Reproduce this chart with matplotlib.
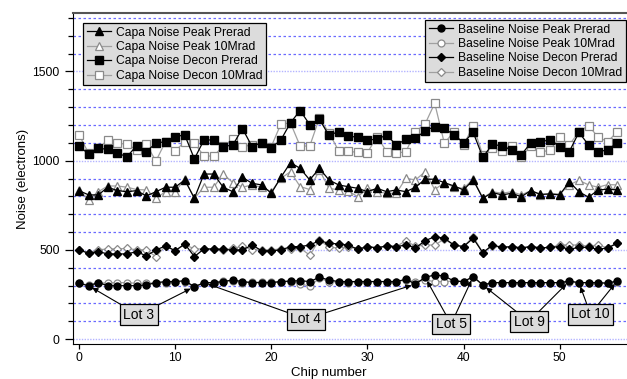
import matplotlib
matplotlib.use("Agg")
import matplotlib.pyplot as plt
import numpy as np

plt.rcParams['font.family'] = ['Liberation Sans', 'DejaVu Sans']

# chip numbers 0..56
chips = list(range(57))

# capacitive noise (electrons)
capa_peak_pre = [832, 808, 808, 851, 832, 826, 832, 802, 826, 851, 851, 892, 789, 925, 925, 851, 826, 907, 873, 864,
                 817, 907, 989, 957, 892, 957, 892, 864, 854, 845, 826, 845, 826, 836, 826, 851, 896, 896, 877, 858,
                 836, 892, 789, 821, 808, 817, 798, 832, 811, 813, 808, 882, 826, 795, 836, 840, 836]
capa_peak_10 = [838, 780, 826, 858, 858, 851, 838, 836, 789, 826, 826, 896, 789, 851, 851, 925, 877, 851, 864, 851,
                826, 901, 938, 855, 838, 948, 845, 836, 830, 798, 845, 826, 817, 817, 901, 892, 938, 838, 877, 851,
                845, 896, 792, 826, 817, 826, 808, 832, 808, 817, 813, 864, 890, 864, 851, 866, 864]
capa_decon_pre = [1082, 1037, 1069, 1064, 1041, 1023, 1084, 1051, 1098, 1107, 1135, 1144, 1010, 1116, 1116, 1079,
                  1088, 1180, 1079, 1101, 1073, 1116, 1213, 1281, 1202, 1232, 1142, 1163, 1138, 1131, 1116, 1120,
                  1144, 1088, 1120, 1125, 1168, 1191, 1182, 1144, 1101, 1159, 1019, 1092, 1082, 1060, 1032, 1101,
                  1107, 1116, 1079, 1051, 1159, 1088, 1051, 1060, 1101]
capa_decon_10 = [1146, 1041, 1069, 1116, 1098, 1092, 1060, 1092, 998, 1107, 1054, 1107, 1098, 1026, 1026, 1082,
                 1120, 1079, 1088, 1101, 1079, 1206, 1211, 1082, 1082, 1238, 1157, 1056, 1052, 1047, 1045, 1135,
                 1051, 1041, 1051, 1163, 1206, 1322, 1098, 1163, 1088, 1195, 1032, 1073, 1056, 1082, 1022, 1082,
                 1047, 1060, 1131, 1088, 1163, 1197, 1131, 1107, 1163]

# baseline noise (electrons)
base_peak_pre = [312, 299, 316, 299, 299, 299, 299, 303, 316, 322, 322, 327, 293, 316, 316, 322, 331, 322, 316, 316,
                 316, 322, 325, 327, 322, 346, 331, 322, 322, 322, 322, 322, 322, 322, 335, 308, 346, 359, 353, 325,
                 322, 350, 303, 316, 316, 316, 316, 316, 316, 316, 316, 325, 316, 316, 316, 312, 327]
base_peak_10 = [312, 303, 312, 316, 316, 316, 312, 312, 316, 316, 322, 322, 290, 316, 316, 327, 325, 316, 318, 320,
                320, 322, 322, 310, 296, 340, 322, 318, 316, 322, 322, 322, 322, 322, 331, 322, 331, 322, 322, 325,
                322, 346, 303, 316, 316, 316, 316, 316, 316, 316, 316, 318, 316, 316, 316, 316, 320]
base_decon_pre = [499, 481, 490, 477, 477, 477, 490, 466, 499, 522, 495, 533, 462, 505, 505, 502, 499, 499, 527, 495,
                  495, 499, 518, 518, 527, 551, 537, 533, 527, 503, 518, 511, 522, 518, 527, 511, 551, 574, 565, 527,
                  518, 565, 484, 527, 514, 518, 511, 518, 511, 514, 518, 503, 514, 514, 503, 511, 537]
base_decon_10 = [500, 485, 500, 505, 505, 508, 500, 500, 462, 522, 495, 530, 505, 505, 502, 500, 508, 520, 500, 500,
                 500, 505, 505, 510, 470, 555, 515, 510, 518, 505, 518, 511, 522, 518, 551, 520, 527, 527, 560, 527,
                 518, 574, 484, 520, 514, 518, 511, 518, 511, 514, 527, 527, 527, 520, 527, 511, 540]

# lot annotations: label, box position (chip, noise), chips the arrows point at
lot_labels = ["Lot 3", "Lot 4", "Lot 5", "Lot 9", "Lot 10"]
lot_box_x = [6.2, 23.6, 38.7, 46.8, 53.2]
lot_box_y = [135, 112, 84, 98, 140]
lot_targets = [[1, 12], [13, 35], [36, 41], [42, 51], [52, 56]]

y_major = [0, 500, 1000, 1500]
y_minor = [100, 200, 300, 400, 600, 700, 800, 900, 1100, 1200, 1300, 1400, 1600, 1700, 1800]
x_ticks = [0, 10, 20, 30, 40, 50]

fig = plt.figure(figsize=(6.27, 3.79), dpi=100)
ax = fig.add_axes([73 / 627, 35 / 379, 554 / 627, 331 / 379])

# grid lines
for v in y_minor:
    ax.axhline(v, color='#6a6aff', lw=0.9, ls=(0, (2, 2)), zorder=0)
for v in y_major:
    ax.axhline(v, color='#b4b4ff', lw=1.0, ls=(0, (1, 1)), zorder=0)

gray = '#a0a0a0'
black_kw = dict(color='black', lw=0.9, markeredgecolor='black', markerfacecolor='black')
gray_kw = dict(color=gray, lw=0.9, markeredgecolor='#8a8a8a', markerfacecolor='white', markeredgewidth=0.9)

l1, = ax.plot(chips, capa_peak_pre, marker='^', ms=6, label='Capa Noise Peak Prerad', zorder=4, **black_kw)
l2, = ax.plot(chips, capa_peak_10, marker='^', ms=6, label='Capa Noise Peak 10Mrad', zorder=3, **gray_kw)
l3, = ax.plot(chips, capa_decon_pre, marker='s', ms=5.6, label='Capa Noise Decon Prerad', zorder=4, **black_kw)
l4, = ax.plot(chips, capa_decon_10, marker='s', ms=5.6, label='Capa Noise Decon 10Mrad', zorder=3, **gray_kw)

b1, = ax.plot(chips, base_peak_pre, marker='o', ms=5, label='Baseline Noise Peak Prerad', zorder=4, **black_kw)
b2, = ax.plot(chips, base_peak_10, marker='o', ms=5, label='Baseline Noise Peak 10Mrad', zorder=3, **gray_kw)
b3, = ax.plot(chips, base_decon_pre, marker='D', ms=4.5, label='Baseline Noise Decon Prerad', zorder=4, **black_kw)
b4, = ax.plot(chips, base_decon_10, marker='D', ms=4.5, label='Baseline Noise Decon 10Mrad', zorder=3, **gray_kw)

# lot boxes with arrows
for label, bx, by, targets in zip(lot_labels, lot_box_x, lot_box_y, lot_targets):
    for t in targets:
        ax.annotate('', xy=(t, base_peak_pre[t]), xytext=(bx, by),
                    arrowprops=dict(arrowstyle='-|>', color='black', lw=0.8, mutation_scale=8,
                                    shrinkA=0, shrinkB=3), zorder=5)
    ax.text(bx, by, label, fontsize=10, ha='center', va='center', zorder=6,
            bbox=dict(boxstyle='square,pad=0.25', facecolor='#dcdcdc', edgecolor='black', lw=0.9))

legend_kw = dict(fontsize=8.7, frameon=True, fancybox=False, framealpha=1, facecolor='#dcdcdc',
                 edgecolor='black', labelspacing=0.2, handlelength=2.0, handletextpad=0.4,
                 borderpad=0.3, borderaxespad=0)
leg1 = ax.legend(handles=[l1, l2, l3, l4], loc='upper left', bbox_to_anchor=(0.018, 0.970), **legend_kw)
leg1.get_frame().set_linewidth(0.9)
ax.add_artist(leg1)
leg2 = ax.legend(handles=[b1, b2, b3, b4], loc='upper right', bbox_to_anchor=(0.998, 0.979), **legend_kw)
leg2.get_frame().set_linewidth(0.9)
leg1.set_zorder(10)
leg2.set_zorder(10)

ax.set_xlim(-0.625, 57)
ax.set_ylim(-28, 1828)
ax.set_xticks(x_ticks)
ax.set_yticks(y_major)
ax.set_yticks(y_minor, minor=True)
ax.tick_params(axis='both', labelsize=8.7, direction='out')
ax.tick_params(axis='y', which='major', length=6, width=0.9)
ax.tick_params(axis='y', which='minor', length=3.5, width=0.9)
ax.tick_params(axis='x', length=3.5, width=0.9, pad=2)

ax.spines['right'].set_visible(False)
ax.spines['top'].set_color('#555555')
ax.spines['top'].set_linewidth(1.5)

ax.set_xlabel('Chip number', fontsize=9.5, labelpad=0)
ax.xaxis.set_label_coords((329 - 73) / 554, -0.07)
ax.set_ylabel('Noise (electrons)', fontsize=9.5)
ax.yaxis.set_label_coords(-0.079, 0.5)

fig.savefig('out.png', dpi=100)
